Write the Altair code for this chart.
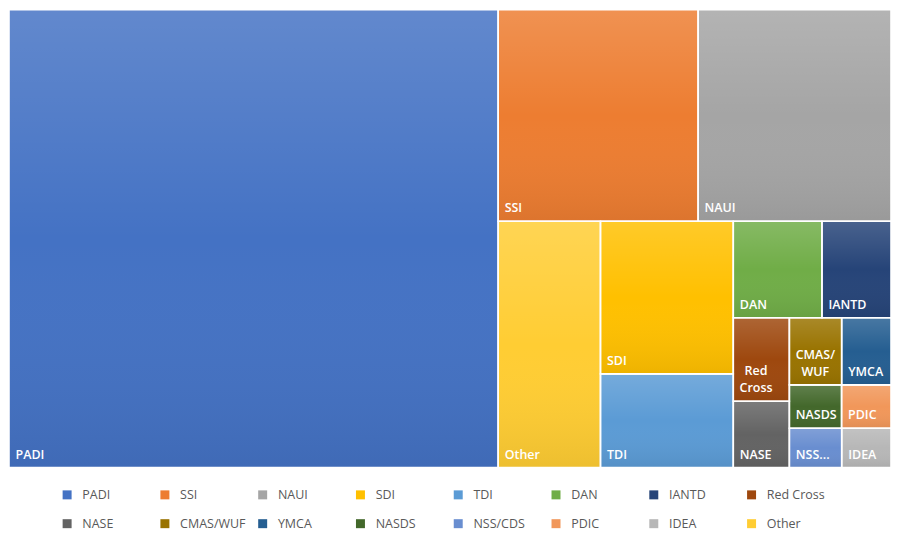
import altair as alt
import pandas as pd

# ---- data (legend order) ----
agencies = ["PADI", "SSI", "NAUI", "SDI", "TDI", "DAN", "IANTD", "Red Cross",
            "NASE", "CMAS/WUF", "YMCA", "NASDS", "NSS/CDS", "PDIC", "IDEA", "Other"]
share = [55.47, 10.48, 10.11, 5.02, 3.08, 2.12, 1.65, 1.16,
         0.92, 0.87, 0.82, 0.56, 0.51, 0.53, 0.48, 6.24]
colors = ["#4472C4", "#ED7D31", "#A5A5A5", "#FFC000", "#5B9BD5", "#70AD47",
          "#264478", "#9E480E", "#636363", "#997300", "#255E91", "#43682B",
          "#698ED0", "#F1975A", "#B7B7B7", "#FFCD33"]
cell_text = {"Red Cross": "Red\nCross", "CMAS/WUF": "CMAS/\nWUF", "NSS/CDS": "NSS..."}

# ---- treemap layout (strip based, largest first) ----
PLOT_W, PLOT_H = 884, 459
W, H = float(PLOT_W), float(PLOT_H)
STRIPS = [(1, "col"), (2, "row"), (1, "col"), (2, "col"), (2, "row"),
          (2, "col"), (2, "row"), (2, "row"), (2, "row")]

n = len(agencies)
order = sorted(range(n), key=lambda i: -share[i])
x0, y0, x1, y1 = 0.0, 0.0, W, H
remaining = sum(share)
pos = 0
rects = {}
for count, kind in STRIPS:
    idx = order[pos:pos + count]
    pos += count
    s = sum(share[i] for i in idx)
    if kind == "col":
        w = (x1 - x0) * s / remaining
        yy = y0
        for i in idx:
            h = (y1 - y0) * share[i] / s
            rects[i] = (x0, yy, x0 + w, yy + h)
            yy += h
        x0 += w
    else:
        h = (y1 - y0) * s / remaining
        xx = x0
        for i in idx:
            w = (x1 - x0) * share[i] / s
            rects[i] = (xx, y0, xx + w, y0 + h)
            xx += w
        y0 += h
    remaining -= s

CHAR_EM = {"C": .63, "r": .42, "o": .6, "s": .48, "R": .64, "e": .57, "d": .62,
           "M": .9, "A": .68, "S": .55, "/": .37, "W": .93, "U": .73, "F": .55}
FONT = 12.5
PAD = 6.5
LINE_H = 17


def text_width(t):
    return sum(CHAR_EM.get(c, .6) for c in t) * FONT


rows = []
for i in range(n):
    a, b, c, d = rects[i]
    label = cell_text.get(agencies[i], agencies[i])
    multi = "\n" in label
    lw = max(text_width(t) for t in label.split("\n"))
    rows.append({
        "agency": agencies[i], "share": share[i],
        "x0": a, "y0": b, "x1": c, "y1": d,
        "label": label, "multi": multi,
        "lx": a + PAD,
        "cx": a + PAD + lw / 2,
    })
df = pd.DataFrame(rows)

xs = alt.Scale(domain=[0, W], nice=False, zero=False)
ys = alt.Scale(domain=[0, H], nice=False, zero=False, reverse=True)

base = alt.Chart(df)

cells = base.mark_rect(strokeWidth=0).encode(
    x=alt.X("x0:Q", scale=xs, axis=None),
    x2="x1:Q",
    y=alt.Y("y0:Q", scale=ys, axis=None),
    y2="y1:Q",
    color=alt.Color(
        "agency:N",
        scale=alt.Scale(domain=agencies, range=colors),
        sort=agencies,
        legend=alt.Legend(
            orient="none", legendX=52, legendY=480, direction="horizontal",
            columns=8, title=None, symbolType="square", symbolSize=81,
            symbolStrokeWidth=0, labelFont="Open Sans", labelFontSize=12.5,
            labelColor="#595959", columnPadding=10, rowPadding=16,
            gridAlign="all", labelOffset=9, padding=0,
        ),
    ),
    tooltip=["agency:N", "share:Q"],
)

shade = base.mark_rect(
    fill=alt.LinearGradient(
        gradient="linear",
        stops=[alt.GradientStop(color="rgba(255,255,255,0.16)", offset=0),
               alt.GradientStop(color="rgba(255,255,255,0)", offset=0.5),
               alt.GradientStop(color="rgba(0,0,0,0.07)", offset=1)],
        x1=0, x2=0, y1=0, y2=1),
    stroke="white", strokeWidth=1.6,
).encode(
    x=alt.X("x0:Q", scale=xs, axis=None),
    x2="x1:Q",
    y=alt.Y("y0:Q", scale=ys, axis=None),
    y2="y1:Q",
)

single = base.transform_filter("!datum.multi").mark_text(
    align="left", baseline="bottom", dy=-6, color="white",
    font="Open Sans", fontSize=FONT, fontWeight=600,
).encode(
    x=alt.X("lx:Q", scale=xs, axis=None),
    y=alt.Y("y1:Q", scale=ys, axis=None),
    text="label:N",
)

multi = base.transform_filter("datum.multi").mark_text(
    align="center", baseline="bottom", dy=-6 - LINE_H, color="white",
    font="Open Sans", fontSize=FONT, fontWeight=600,
    lineBreak="\n", lineHeight=LINE_H,
).encode(
    x=alt.X("cx:Q", scale=xs, axis=None),
    y=alt.Y("y1:Q", scale=ys, axis=None),
    text="label:N",
)

chart = alt.layer(cells, shade, single, multi).properties(
    width=PLOT_W, height=PLOT_H, padding=0, background="white",
).configure_view(stroke=None)

chart.save("out.html", embed_options={"renderer": "svg", "actions": False})
